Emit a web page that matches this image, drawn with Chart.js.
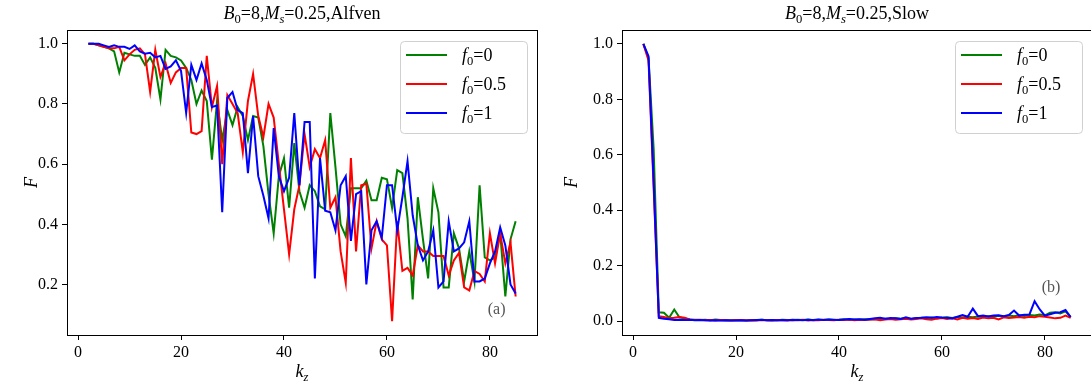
<!DOCTYPE html>
<html>
<head>
<meta charset="utf-8">
<script src="https://cdn.jsdelivr.net/npm/chart.js@4.4.1/dist/chart.umd.min.js"></script>
<style>
  html, body { margin: 0; padding: 0; background: #fff; overflow: hidden; }
  #wrap { position: relative; width: 1091px; height: 387px; overflow: hidden; }
  .panel { position: absolute; top: 0; }
</style>
</head>
<body>
<div id="wrap">
  <div class="panel" style="left:0"><canvas id="chartA" width="560" height="387"></canvas></div>
  <div class="panel" style="left:560px"><canvas id="chartB" width="540" height="387"></canvas></div>
</div>
<script>
const kz = [2, 3, 4, 5, 6, 7, 8, 9, 10, 11, 12, 13, 14, 15, 16, 17, 18, 19, 20, 21,
    22, 23, 24, 25, 26, 27, 28, 29, 30, 31, 32, 33, 34, 35, 36, 37, 38, 39, 40, 41,
    42, 43, 44, 45, 46, 47, 48, 49, 50, 51, 52, 53, 54, 55, 56, 57, 58, 59, 60, 61,
    62, 63, 64, 65, 66, 67, 68, 69, 70, 71, 72, 73, 74, 75, 76, 77, 78, 79, 80, 81,
    82, 83, 84, 85];

// panel (a): Alfven
const alfvenF0 = [1.0, 1.0, 0.995, 0.99, 0.985, 0.975, 0.905, 0.97, 0.965, 0.96,
    0.96, 0.93, 0.955, 0.92, 0.815, 0.98, 0.96, 0.955, 0.945, 0.92,
    0.88, 0.80, 0.845, 0.81, 0.615, 0.81, 0.68, 0.78, 0.73, 0.79,
    0.76, 0.68, 0.76, 0.755, 0.66, 0.50, 0.37, 0.56, 0.62, 0.455,
    0.67, 0.51, 0.455, 0.53, 0.51, 0.46, 0.45, 0.77, 0.59, 0.40,
    0.36, 0.52, 0.52, 0.52, 0.545, 0.48, 0.48, 0.555, 0.55, 0.455,
    0.58, 0.57, 0.42, 0.15, 0.49, 0.35, 0.22, 0.52, 0.44, 0.19,
    0.19, 0.37, 0.32, 0.21, 0.31, 0.21, 0.53, 0.29, 0.28, 0.29,
    0.37, 0.16, 0.35, 0.41];
const alfvenF05 = [1.0, 1.0, 0.995, 0.99, 0.985, 0.985, 0.99, 0.945, 0.965, 0.98,
    0.985, 0.965, 0.84, 0.98, 0.89, 0.935, 0.87, 0.905, 0.92, 0.92,
    0.705, 0.70, 0.71, 0.96, 0.79, 0.86, 0.60, 0.83, 0.80, 0.77,
    0.64, 0.81, 0.90, 0.76, 0.69, 0.80, 0.755, 0.60, 0.45, 0.30,
    0.45, 0.53, 0.70, 0.59, 0.65, 0.62, 0.68, 0.455, 0.49, 0.31,
    0.205, 0.62, 0.31, 0.53, 0.535, 0.32, 0.41, 0.35, 0.33, 0.078,
    0.41, 0.245, 0.255, 0.23, 0.33, 0.31, 0.31, 0.295, 0.295, 0.295,
    0.23, 0.28, 0.305, 0.19, 0.18, 0.245, 0.235, 0.21, 0.37, 0.27,
    0.37, 0.27, 0.34, 0.16];
const alfvenF1 = [1.0, 1.0, 1.0, 0.995, 0.99, 0.995, 0.99, 0.99, 0.983, 0.995,
    0.975, 0.967, 0.97, 0.955, 0.96, 0.917, 0.925, 0.945, 0.91, 0.77,
    0.93, 0.88, 0.935, 0.88, 0.79, 0.795, 0.44, 0.82, 0.84, 0.78,
    0.77, 0.57, 0.76, 0.56, 0.495, 0.42, 0.72, 0.56, 0.51, 0.555,
    0.77, 0.53, 0.74, 0.74, 0.22, 0.62, 0.445, 0.44, 0.38, 0.53,
    0.56, 0.345, 0.50, 0.51, 0.20, 0.38, 0.41, 0.355, 0.53, 0.53,
    0.38, 0.49, 0.61, 0.43, 0.33, 0.28, 0.31, 0.38, 0.19, 0.21,
    0.41, 0.31, 0.32, 0.34, 0.41, 0.21, 0.21, 0.22, 0.27, 0.31,
    0.39, 0.33, 0.20, 0.17];

// panel (b): Slow
const slowF0 = [1.0, 0.95, 0.62, 0.032, 0.03, 0.012, 0.042, 0.014, 0.01, 0.006,
    0.005, 0.004, 0.005, 0.003, 0.006, 0.004, 0.003, 0.003, 0.004, 0.003,
    0.002, 0.004, 0.003, 0.005, 0.003, 0.004, 0.003, 0.005, 0.004, 0.003,
    0.005, 0.004, 0.006, 0.003, 0.005, 0.004, 0.006, 0.004, 0.005, 0.007,
    0.004, 0.006, 0.005, 0.007, 0.006, 0.008, 0.007, 0.009, 0.008, 0.01,
    0.009, 0.011, 0.008, 0.01, 0.012, 0.011, 0.013, 0.01, 0.012, 0.014,
    0.011, 0.015, 0.013, 0.016, 0.014, 0.017, 0.015, 0.018, 0.016, 0.019,
    0.017, 0.02, 0.018, 0.021, 0.019, 0.022, 0.02, 0.024, 0.021, 0.03,
    0.032, 0.028, 0.035, 0.015];
const slowF05 = [1.0, 0.94, 0.48, 0.018, 0.015, 0.01, 0.012, 0.015, 0.012, 0.006,
    0.004, 0.005, 0.003, 0.004, 0.002, 0.004, 0.003, 0.002, 0.003, 0.004,
    0.002, 0.003, 0.002, 0.004, 0.003, 0.002, 0.004, 0.003, 0.002, 0.004,
    0.003, 0.005, 0.002, 0.004, 0.003, 0.005, 0.004, 0.003, 0.005, 0.004,
    0.006, 0.003, 0.005, 0.004, 0.006, 0.007, 0.003, 0.006, 0.008, 0.005,
    0.007, 0.009, 0.006, 0.008, 0.01, 0.007, 0.005, 0.009, 0.011, 0.008,
    0.01, 0.006, 0.012, 0.009, 0.011, 0.008, 0.013, 0.01, 0.012, 0.006,
    0.014, 0.011, 0.013, 0.015, 0.012, 0.016, 0.014, 0.018, 0.016, 0.013,
    0.01, 0.012, 0.02, 0.012];
const slowF1 = [1.0, 0.955, 0.5, 0.012, 0.009, 0.007, 0.004, 0.005, 0.004, 0.005,
    0.003, 0.004, 0.003, 0.002, 0.003, 0.002, 0.003, 0.002, 0.002, 0.003,
    0.002, 0.003, 0.004, 0.005, 0.003, 0.004, 0.003, 0.004, 0.003, 0.005,
    0.004, 0.003, 0.005, 0.004, 0.006, 0.004, 0.006, 0.005, 0.004, 0.006,
    0.008, 0.006, 0.007, 0.005, 0.008, 0.01, 0.012, 0.009, 0.011, 0.01,
    0.008, 0.014, 0.009, 0.011, 0.012, 0.014, 0.012, 0.015, 0.013, 0.012,
    0.01, 0.016, 0.022, 0.016, 0.045, 0.018, 0.02, 0.017, 0.02, 0.021,
    0.018, 0.022, 0.038, 0.02, 0.023, 0.024, 0.072, 0.042, 0.02, 0.025,
    0.03, 0.032, 0.04, 0.015];

const seriesLabels = ['0', '0.5', '1'];
const seriesColors = ['green', 'red', 'blue'];
const xTicks = [0, 20, 40, 60, 80];
const alfvenYTicks = [0.2, 0.4, 0.6, 0.8, 1.0];
const slowYTicks = [0.0, 0.2, 0.4, 0.6, 0.8, 1.0];

const FONT = "'Liberation Serif', 'DejaVu Serif', serif";

function drawRich(ctx, parts, x, y, size, align) {
    const fontFor = p => (p.it ? 'italic ' : '') + (p.sub ? size * 0.7 : size) + 'px ' + FONT;
    const widths = parts.map(p => { ctx.font = fontFor(p); return ctx.measureText(p.t).width; });
    const total = widths.reduce((a, b) => a + b, 0);
    let cx = align === 'left' ? x : x - total / 2;
    ctx.textAlign = 'left';
    ctx.textBaseline = 'alphabetic';
    parts.forEach((p, i) => {
        ctx.font = fontFor(p);
        ctx.fillText(p.t, cx, y + (p.sub ? size * 0.22 : 0));
        cx += widths[i];
    });
}

// frame, titles, axis labels, legend and panel tag
const decorPlugin = {
    id: 'decor',
    afterDraw(chart, args, opts) {
        const ctx = chart.ctx;
        const a = chart.chartArea;
        ctx.save();
        ctx.strokeStyle = '#000';
        ctx.lineWidth = 1;
        ctx.strokeRect(Math.round(a.left) + 0.5, Math.round(a.top) + 0.5, Math.round(a.right - a.left), Math.round(a.bottom - a.top));

        ctx.fillStyle = '#000';
        const midX = (a.left + a.right) / 2;
        drawRich(ctx, [
            { t: 'B', it: true }, { t: '0', sub: true }, { t: '=8,' },
            { t: 'M', it: true }, { t: 's', sub: true, it: true }, { t: '=0.25,' + opts.title }
        ], midX, 19, 18);
        drawRich(ctx, [{ t: 'k', it: true }, { t: 'z', sub: true, it: true }], midX, 377, 18);

        ctx.save();
        ctx.translate(opts.yLabelX, (a.top + a.bottom) / 2);
        ctx.rotate(-Math.PI / 2);
        drawRich(ctx, [{ t: 'F', it: true }], 0, 6, 18);
        ctx.restore();

        // legend box
        const bw = 127, bh = 92;
        const bx = a.right - 10 - bw, by = a.top + 11;
        ctx.beginPath();
        ctx.roundRect(bx + 0.5, by + 0.5, bw, bh, 4);
        ctx.fillStyle = 'rgba(255,255,255,0.8)';
        ctx.fill();
        ctx.strokeStyle = '#d0d0d0';
        ctx.stroke();
        seriesLabels.forEach((lab, i) => {
            const ly = by + 14 + i * 29;
            ctx.strokeStyle = seriesColors[i];
            ctx.lineWidth = 2;
            ctx.beginPath();
            ctx.moveTo(bx + 6, ly);
            ctx.lineTo(bx + 47, ly);
            ctx.stroke();
            ctx.fillStyle = '#000';
            drawRich(ctx, [{ t: 'f', it: true }, { t: '0', sub: true }, { t: '=' + lab }], bx + 62, ly + 6, 18, 'left');
        });

        // panel tag
        const tx = chart.scales.x.getPixelForValue(opts.tag[1]);
        const ty = chart.scales.y.getPixelForValue(opts.tag[2]);
        ctx.fillStyle = '#555';
        drawRich(ctx, [{ t: opts.tag[0] }], tx, ty + 5, 16);
        ctx.restore();
    }
};

function buildChart(canvasId, series, yMin, yMax, yTicks, yWidth, padRight, decor) {
    const datasets = series.map((vals, i) => ({
        label: 'f0=' + seriesLabels[i],
        data: kz.map((k, j) => ({ x: k, y: vals[j] })),
        borderColor: seriesColors[i],
        borderWidth: 2,
        pointRadius: 0,
        fill: false,
        tension: 0,
        order: 3 - i
    }));
    const tickFont = { family: FONT, size: 16 };
    return new Chart(document.getElementById(canvasId), {
        type: 'line',
        data: { datasets },
        plugins: [decorPlugin],
        options: {
            responsive: false,
            animation: false,
            layout: { padding: { top: 30, right: padRight, bottom: 0, left: 0 } },
            plugins: { legend: { display: false }, tooltip: { enabled: false }, decor },
            scales: {
                x: {
                    type: 'linear', min: -2.15, max: 89.15,
                    afterFit: s => { s.height = 52; },
                    afterBuildTicks: s => { s.ticks = xTicks.map(v => ({ value: v })); },
                    grid: { drawOnChartArea: false, drawTicks: true, tickLength: 5, tickWidth: 1, tickColor: '#000' },
                    border: { display: false },
                    ticks: { color: '#000', font: tickFont, padding: 3, maxRotation: 0, callback: v => String(v) }
                },
                y: {
                    type: 'linear', min: yMin, max: yMax,
                    afterFit: s => { s.width = yWidth; },
                    afterBuildTicks: s => { s.ticks = yTicks.map(v => ({ value: v })); },
                    grid: { drawOnChartArea: false, drawTicks: true, tickLength: 5, tickWidth: 1, tickColor: '#000' },
                    border: { display: false },
                    ticks: { color: '#000', font: tickFont, padding: 4, callback: v => v.toFixed(1) }
                }
            }
        }
    });
}

buildChart('chartA', [alfvenF0, alfvenF05, alfvenF1], 0.032, 1.046, alfvenYTicks, 67, 23,
    { title: 'Alfven', yLabelX: 31, tag: ['(a)', 81.3, 0.12] });
buildChart('chartB', [slowF0, slowF05, slowF1], -0.05, 1.05, slowYTicks, 62, 8,
    { title: 'Slow', yLabelX: 11, tag: ['(b)', 81.2, 0.123] });
</script>
</body>
</html>
